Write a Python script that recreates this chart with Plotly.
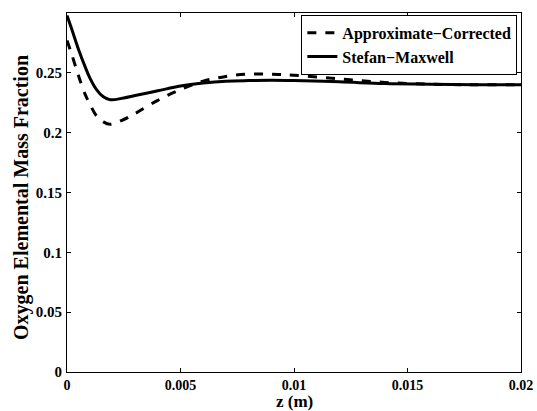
import plotly.graph_objects as go

z = [0, 0.0002, 0.0005, 0.0008, 0.001, 0.0013, 0.0016, 0.0019, 0.0025, 0.003, 0.004, 0.005,
     0.006, 0.007, 0.008, 0.009, 0.01, 0.012, 0.014, 0.016, 0.018, 0.02]
stefan = [0.298, 0.287, 0.270, 0.255, 0.246, 0.236, 0.230, 0.2275, 0.229, 0.231, 0.235, 0.239,
          0.2415, 0.243, 0.2435, 0.2437, 0.2435, 0.2425, 0.241, 0.2405, 0.240, 0.240]
approx = [0.277, 0.266, 0.248, 0.232, 0.224, 0.214, 0.209, 0.207, 0.211, 0.216, 0.227, 0.236,
          0.243, 0.247, 0.249, 0.2488, 0.248, 0.245, 0.242, 0.2405, 0.240, 0.240]

xticks = [0, 0.005, 0.01, 0.015, 0.02]
xlabels = ["0", "0.005", "0.01", "0.015", "0.02"]
yticks = [0, 0.05, 0.1, 0.15, 0.2, 0.25]
ylabels = ["0", "0.05", "0.1", "0.15", "0.2", "0.25"]

font = "Liberation Serif"
fig = go.Figure()
fig.add_trace(go.Scatter(x=z, y=approx, mode="lines", name="<b>Approximate\u2212Corrected</b>",
                         line=dict(color="black", width=3, dash="dash", shape="spline")))
fig.add_trace(go.Scatter(x=z, y=stefan, mode="lines", name="<b>Stefan\u2212Maxwell</b>",
                         line=dict(color="black", width=3, shape="spline")))

axis_common = dict(showgrid=False, zeroline=False, showline=True, linecolor="black", linewidth=1,
                   mirror="ticks", ticks="inside", ticklen=4, tickcolor="black", automargin=False)
fig.update_xaxes(range=[0, 0.02], tickvals=xticks, ticktext=["<b>%s</b>" % t for t in xlabels],
                 ticklabelstandoff=0, tickfont=dict(family=font, size=14, color="black"), **axis_common)
fig.update_yaxes(range=[0, 0.3], tickvals=yticks, ticktext=["<b>%s</b>" % t for t in ylabels],
                 ticklabelstandoff=1, tickfont=dict(family=font, size=15, color="black"), **axis_common)
fig.add_annotation(text="<b>z (m)</b>", xref="paper", yref="paper", x=0.5, y=-0.081,
                   xanchor="center", yanchor="middle", showarrow=False,
                   font=dict(family=font, size=17, color="black"))
fig.add_annotation(text="<b>Oxygen Elemental Mass Fraction</b>", xref="paper", yref="paper",
                   x=-0.099, y=0.485, xanchor="center", yanchor="middle", textangle=-90, showarrow=False,
                   font=dict(family=font, size=20, color="black"))
fig.update_layout(
    width=537, height=411,
    margin=dict(l=67, r=16, t=13, b=39),
    paper_bgcolor="white", plot_bgcolor="white",
    legend=dict(x=0.992, y=0.995, xanchor="right", yanchor="top", bgcolor="white",
                bordercolor="black", borderwidth=1, font=dict(family=font, size=16, color="black"),
                tracegroupgap=0, itemwidth=30),
)
fig.write_html("out.html")
